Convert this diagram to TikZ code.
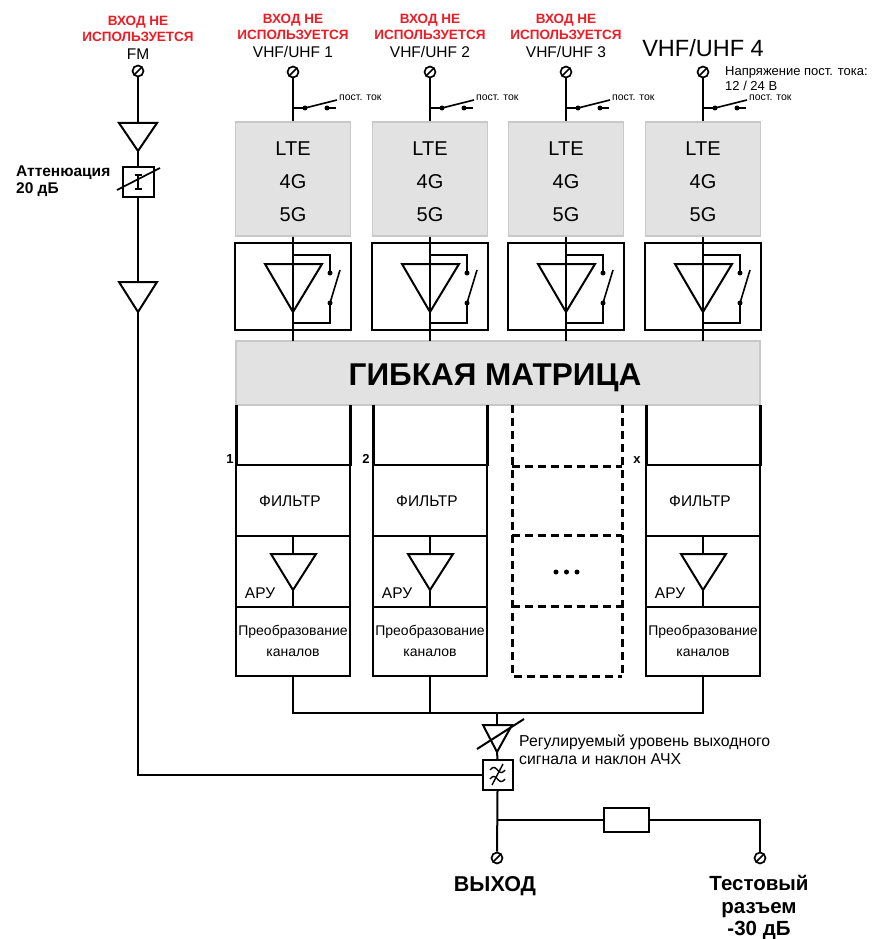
\documentclass[tikz,border=0pt]{standalone}
\usepackage{fontspec}
\setmainfont{Liberation Sans}
\definecolor{redtxt}{RGB}{237,28,36}
\definecolor{gfill}{RGB}{226,226,226}
\definecolor{gedge}{RGB}{200,200,200}
\begin{document}
\begin{tikzpicture}[x=1pt,y=-1pt,
  wire/.style={line width=2pt},
  blk/.style={draw, line width=2pt, inner sep=0pt},
  gbox/.style={fill=gfill, draw=gedge, line width=1.2pt, inner sep=0pt},
  port/.style={circle, draw, fill=white, line width=1.7pt, minimum size=11pt, inner sep=0pt,
    path picture={\draw[line width=1.7pt] (path picture bounding box.south west) -- (path picture bounding box.north east);}},
  sdot/.style={circle, fill, inner sep=0pt, minimum size=5pt},
  redt/.style={text=redtxt, font=\bfseries\fontsize{13.5}{16}\selectfont, anchor=base},
  lbl/.style={anchor=base, font=\fontsize{15.5}{18}\selectfont},
  big/.style={anchor=base, font=\fontsize{20}{22}\selectfont},
  mid/.style={anchor=base, font=\fontsize{15.5}{18}\selectfont},
  tiny/.style={anchor=base west, font=\fontsize{10.5}{12}\selectfont, inner sep=0pt},
  bold/.style={anchor=base, font=\bfseries\fontsize{21.5}{24}\selectfont},
  tbold/.style={anchor=base, font=\bfseries\fontsize{20.5}{24}\selectfont},
  dashbox/.style={line width=3pt, dash pattern=on 8pt off 5pt}
]
\useasboundingbox (0,0) rectangle (872,939);

% ---------------- FM branch ----------------
\node[redt] (fmr1) at (138,26) {ВХОД НЕ};
\node[redt] (fmr2) at (138,42) {ИСПОЛЬЗУЕТСЯ};
\node[lbl] (fml) at (138,60) {FM};
\node[port] (fmin) at (138,71) {};
\coordinate (ta1) at (138,123);
\coordinate (tb1) at (138,151);
\draw[wire] (fmin) -- (ta1);
\draw[wire] (119,123) -- (157,123) -- (tb1) -- cycle;
\node[blk, minimum width=31pt, minimum height=30pt] (att) at (138,182) {};
\draw[wire] (tb1) -- (att.north);
\draw[line width=1.5pt] (138,175) -- (138,189) (134.5,175) -- (141.5,175) (134.5,189) -- (141.5,189);
\draw[line width=1.7pt] (117,190) -- (160,168);
\node[anchor=base west, font=\bfseries\fontsize{15.5}{18}\selectfont, inner sep=0pt] (attl) at (16,176) {Аттенюация};
\node[anchor=base west, font=\bfseries\fontsize{15.5}{18}\selectfont, inner sep=0pt] (attl2) at (16,193) {20 дБ};
\coordinate (ta2) at (138,282);
\coordinate (tb2) at (138,312);
\draw[wire] (att.south) -- (ta2);
\draw[wire] (119,282) -- (157,282) -- (tb2) -- cycle;

% ---------------- input columns ----------------
\node[redt] (r11) at (293,24) {ВХОД НЕ};
\node[redt] (r12) at (293,40) {ИСПОЛЬЗУЕТСЯ};
\node[lbl] (v1) at (293,58) {VHF/UHF 1};
\node[redt] (r21) at (430,24) {ВХОД НЕ};
\node[redt] (r22) at (430,40) {ИСПОЛЬЗУЕТСЯ};
\node[lbl] (v2) at (430,58) {VHF/UHF 2};
\node[redt] (r31) at (566,24) {ВХОД НЕ};
\node[redt] (r32) at (566,40) {ИСПОЛЬЗУЕТСЯ};
\node[lbl] (v3) at (566,58) {VHF/UHF 3};
\node[anchor=base, font=\fontsize{23.5}{26}\selectfont] (v4) at (703,57) {VHF/UHF 4};
\node[anchor=base west, font=\fontsize{13}{15}\selectfont, inner sep=0pt] (dc1) at (725,76) {Напряжение пост. тока:};
\node[anchor=base west, font=\fontsize{13}{15}\selectfont, inner sep=0pt] (dc2) at (725,91) {12 / 24 В};

% matrix
\node[gbox, minimum width=524pt, minimum height=64pt] (mx) at (498,373) {};
\node[anchor=base, font=\bfseries\fontsize{31.5}{34}\selectfont] (mxt) at (495,385) {ГИБКАЯ МАТРИЦА};

\foreach \x/\i in {293/1,430/2,566/3,703/4}{
  \node[port] (in\i) at (\x,72) {};
  \node[gbox, minimum width=115pt, minimum height=114pt] (lte\i) at (\x,179) {};
  \node[big] (lt\i) at (\x,155) {LTE};
  \node[big] (g4\i) at (\x,188) {4G};
  \node[big] (g5\i) at (\x,221) {5G};
  \draw[wire] (in\i) -- (lte\i.north);
  % dc switch
  \node[sdot] (sa\i) at (\x+12,108) {};
  \node[sdot] (sb\i) at (\x+34,108) {};
  \draw[wire] (\x,108) -- (sa\i.center);
  \draw[line width=1.6pt] (sa\i.center) -- (\x+44,100);
  \draw[line width=1.6pt] (sb\i.center) -- (\x+43,108);
  \node[tiny] (dcl\i) at (\x+46,101) {пост. ток};
  % amplifier block
  \node[blk, minimum width=116pt, minimum height=87pt] (amp\i) at (\x,286.5) {};
  \draw[wire] (lte\i.south) -- (\x,341);
  \draw[wire] (\x-28,264) -- (\x+29,264) -- (\x,312) -- cycle;
  \node[sdot] (ba\i) at (\x+37,273) {};
  \node[sdot] (bb\i) at (\x+37,303) {};
  \draw[wire] (\x,255) -| (ba\i.center);
  \draw[wire] (\x,323) -| (bb\i.center);
  \draw[line width=1.6pt] (bb\i.center) -- (\x+47,270);
}

% ---------------- channel columns ----------------
\foreach \x/\i in {293/1,430/2,703/4}{
  \draw[line width=3pt] (\x-57,405) -- (\x-57,466) (\x+57,405) -- (\x+57,466);
  \node[blk, minimum width=114pt, minimum height=71pt] (fil\i) at (\x,500.5) {};
  \node[mid] (filt\i) at (\x-3,506) {ФИЛЬТР};
  \node[blk, minimum width=114pt, minimum height=71pt] (aru\i) at (\x,571.5) {};
  \draw[wire] (aru\i.north) -- (\x,554);
  \draw[wire] (\x-22,554) -- (\x+23,554) -- (\x,590) -- cycle;
  \draw[wire] (\x,590) -- (aru\i.south);
  \node[mid] (arul\i) at (\x-33,598) {АРУ};
  \node[blk, minimum width=114pt, minimum height=69pt] (conv\i) at (\x,641.5) {};
  \node[anchor=base, font=\fontsize{14}{16}\selectfont] (cv\i) at (\x,635) {Преобразование};
  \node[anchor=base, font=\fontsize{14}{16}\selectfont] (cw\i) at (\x,656) {каналов};
}
\node[anchor=base, font=\bfseries\fontsize{13}{14}\selectfont] (n1) at (230,463) {1};
\node[anchor=base, font=\bfseries\fontsize{13}{14}\selectfont] (n2) at (366,463) {2};
\node[anchor=base, font=\bfseries\fontsize{13}{14}\selectfont] (nx) at (637,463) {x};

% dashed placeholder column
\draw[dashbox] (512,405) -- (512,676) -- (622,676);
\draw[dashbox] (622,405) -- (622,676);
\draw[dashbox] (512,466) -- (622,466);
\draw[dashbox] (512,535) -- (622,535);
\draw[dashbox] (512,606) -- (622,606);
\node[sdot] (d1) at (556,572) {};
\node[sdot] (d2) at (566.5,572) {};
\node[sdot] (d3) at (577,572) {};

% ---------------- output section ----------------
\coordinate (busL) at (293,713);
\coordinate (busR) at (703,713);
\coordinate (busM) at (497,713);
\draw[wire] (conv1.south) -- (busL) -- (busR) -- (conv4.south);
\draw[wire] (conv2.south) -- (430,713);
\coordinate (ta3) at (497,725);
\coordinate (tb3) at (497,752);
\draw[wire] (busM) -- (ta3);
\draw[wire] (483,725) -- (512,725) -- (tb3) -- cycle;
\draw[line width=2pt] (477,749) -- (524,719);
\node[anchor=base west, font=\fontsize{15.8}{18}\selectfont, inner sep=0pt] (regl1) at (519,746) {Регулируемый уровень выходного};
\node[anchor=base west, font=\fontsize{15.8}{18}\selectfont, inner sep=0pt] (regl2) at (519,764) {сигнала и наклон АЧХ};
\node[blk, minimum size=30pt] (filt) at (497.5,775) {};
\draw[wire] (tb3) -- (filt.north);
\draw[line width=1.4pt, domain=0:1, samples=25] plot ({490+15*\x},{770-2.5*sin(360*\x)});
\draw[line width=1.4pt, domain=0:1, samples=25] plot ({490+15*\x},{779-2.5*sin(360*\x)});
\draw[line width=1.4pt] (492,785) -- (503,764);
\draw[wire] (tb2) -- (138,775) -- (filt.west);

\node[port] (outp) at (497,858) {};
\node[port] (testp) at (760,858) {};
\node[blk, minimum width=45pt, minimum height=24pt] (res) at (626.5,819.5) {};
\coordinate (br) at (497,819.5);
\draw[wire] (filt.south) -- (outp);
\draw[wire] (br) -- (res.west);
\draw[wire] (res.east) -| (testp);

\node[bold] (outl) at (495,891) {ВЫХОД};
\node[tbold] (tl1) at (759,890) {Тестовый};
\node[tbold] (tl2) at (759,913.5) {разъем};
\node[tbold] (tl3) at (759,935.5) {-30 дБ};
\end{tikzpicture}
\end{document}
